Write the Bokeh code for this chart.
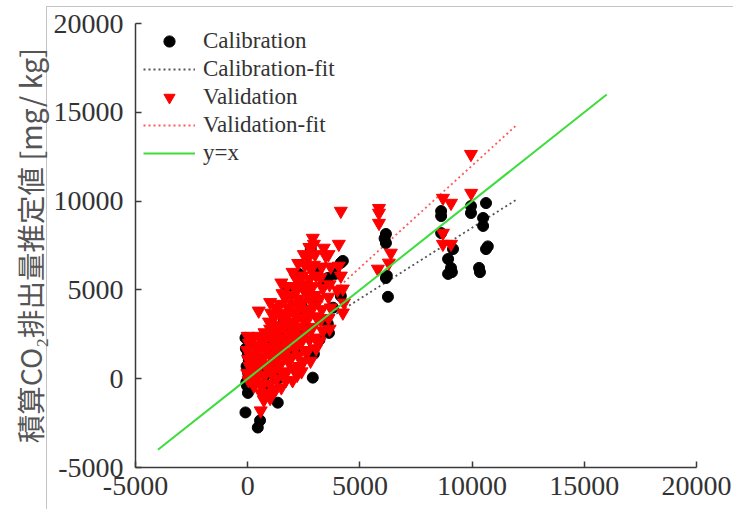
from bokeh.plotting import figure
from bokeh.models import Range1d, FixedTicker, Legend, LegendItem
from bokeh.embed import file_html
from bokeh.resources import INLINE

# ---------------- data ----------------
cal_x = [-100, -80, 0, -50, 20, -60, 10, -100, 50, -30,
         450, 550, 300, 700, 900, 600, 800, 1000, 1340, 1340,
         1200, 1500, 1800, 1600, 1900, 2100, 2200, 2280, 2400, 2500,
         2600, 2810, 2800, 2950, 2900, 2700, 3000, 3100, 3200, 3400,
         3570, 3620, 3570, 3800, 4150, 4150, 4240, 3900, 1100, 1400,
         6160, 6160, 6200, 6160, 6250, 6100,
         8620, 8620, 8620, 9150, 8930, 9060, 8930, 9100,
         9950, 9950, 10620, 10490, 10490, 10620, 10700, 10310, 10350]
cal_y = [2300, 1700, 1300, 700, 300, -200, -800, -1900, 1000, -400,
         -2750, -2350, -250, 2250, 1750, 600, -300, 300, -1350, 0,
         1200, 2000, 5100, 3200, 2600, 1500, 3600, 5900, 4200, 2800,
         5000, 7300, 1300, 1400, 60, 3800, 4600, 6000, 2200, 5400,
         3090, 2580, 5670, 4000, 6520, 4660, 6630, 5900, 800, 2700,
         8150, 7640, 5800, 5670, 4610, 7900,
         9440, 9160, 8200, 7300, 6740, 6240, 5900, 6000,
         9720, 9330, 9890, 9050, 8600, 7300, 7450, 6240, 6000]

val_x = [0, 50, -30, 20, 80, -20, 40,
         250, 300, 200, 260, 300, 220, 280,
         490, 500, 520, 450, 560, 480, 520, 550, 580, 580,
         750, 700, 780, 720, 800, 760, 700, 800, 720,
         1000, 1050, 950, 1000, 1080, 950, 1020, 980, 1050, 1000, 1100, 1000,
         1250, 1200, 1300, 1250, 1200, 1300, 1250, 1200, 1300, 1250,
         1500, 1550, 1450, 1500, 1600, 1450, 1550, 1500, 1600, 1450, 1550, 1500,
         1750, 1700, 1800, 1750, 1700, 1800, 1750, 1700, 1800, 1750, 1700,
         2000, 2140, 2050, 1950, 2000, 2100, 1950, 2050, 2000, 2100, 1950, 2050, 2000,
         2250, 2300, 2200, 2250, 2300, 2200, 2250, 2300, 2200, 2250, 2300, 2200,
         2500, 2550, 2450, 2500, 2600, 2450, 2550, 2500, 2600, 2450, 2550, 2500, 2400,
         2750, 2700, 2800, 2750, 2700, 2800, 2750, 2700, 2800, 2750, 2700, 2800,
         2900, 2950, 3000, 2950, 3050, 2900, 3000, 2950, 3050, 2900, 3000, 3050,
         3390, 3480, 3300, 3250, 3350, 3200, 3300, 3250, 3350, 3200,
         3600, 3700, 3650, 3600, 3700, 3600, 3650,
         4060, 4060, 4150, 4240, 4290, 4240, 4150, 4000,
         5850, 5850, 5850, 6380, 6290, 5800,
         8700, 9060, 8700, 8700, 9060, 9960, 9950]
val_y = [2400, 2000, 1600, 1100, 700, 300, -100,
         2300, 1800, 1300, 900, 400, 0, -400,
         3820, 2400, 1900, 1500, 1000, 600, 200, -300, -800, -1800,
         2600, 2100, 1600, 1200, 700, 200, -300, -900, -1200,
         4300, 3700, 3200, 2800, 2300, 1800, 1300, 800, 300, -300, -800, -1100,
         4000, 3500, 3000, 2500, 2000, 1500, 1000, 500, 0, -600,
         5400, 4800, 4200, 3700, 3300, 2800, 2300, 1800, 1300, 800, 300, -500,
         5200, 4600, 4000, 3500, 3000, 2500, 2000, 1500, 1000, 400, -100,
         6000, 5670, 5200, 4700, 4200, 3700, 3200, 2700, 2200, 1700, 1200, 600, -100,
         6500, 5600, 5000, 4500, 4000, 3400, 2900, 2400, 1900, 1300, 700, 200,
         7000, 6400, 5800, 5300, 4800, 4300, 3800, 3300, 2700, 2200, 1600, 1000, 400,
         7400, 6800, 6200, 5600, 5000, 4500, 3900, 3400, 2800, 2200, 1600, 1000,
         7920, 7580, 7000, 6400, 5800, 5200, 4700, 4100, 3500, 2900, 2300, 1700,
         7360, 6910, 6300, 5700, 5100, 4500, 3900, 3300, 2700, 2100,
         7000, 6300, 5300, 4600, 4000, 3400, 2800,
         7580, 6350, 5790, 5060, 4270, 3710, 9440, 5000,
         9600, 9330, 8760, 7080, 6520, 6180,
         10170, 9890, 8200, 7580, 7580, 10450, 12640]

cal_fit_x = [0, 12000]
cal_fit_y = [500, 10100]
val_fit_x = [0, 12000]
val_fit_y = [500, 14300]
yx_x = [-4000, 16000]
yx_y = [-4000, 16000]

tick_values = [-5000, 0, 5000, 10000, 15000, 20000]
tick_labels = ["-5000", "0", "5000", "10000", "15000", "20000"]

y_label = "積算CO₂排出量推定値 [mg/ kg]"

# ---------------- figure ----------------
W, H = 733, 509
p = figure(width=W, height=H, output_backend="svg", toolbar_location=None,
           x_range=Range1d(-5000, 20000), y_range=Range1d(-5000, 20000),
           min_border_left=135, min_border_right=37, min_border_top=23,
           min_border_bottom=42)
p.grid.visible = False
p.outline_line_color = None
p.background_fill_color = "white"
p.border_fill_alpha = 0
# thin light-grey lines (left and top) that frame the original picture
p.styles = {
    "background-color": "white",
    "background-image": "linear-gradient(#c4c4c4, #c4c4c4), linear-gradient(#c4c4c4, #c4c4c4)",
    "background-size": "1px 100%, 100% 1px",
    "background-position": "46px 6px, 46px 6px",
    "background-repeat": "no-repeat",
}

serif = "Liberation Serif"
for ax in (p.xaxis[0], p.yaxis[0]):
    ax.ticker = FixedTicker(ticks=tick_values)
    ax.major_label_overrides = {v: s for v, s in zip(tick_values, tick_labels)}
    ax.major_tick_in = 6
    ax.major_tick_out = 0
    ax.minor_tick_in = 0
    ax.minor_tick_out = 0
    ax.axis_line_color = "#3a3a3a"
    ax.axis_line_width = 1.5
    ax.major_tick_line_color = "#3a3a3a"
    ax.major_tick_line_width = 1.5
    ax.major_label_text_font = serif
    ax.major_label_text_font_size = "28px"
    ax.major_label_text_color = "#333333"

p.xaxis.major_label_standoff = 9
p.yaxis.major_label_standoff = 12
p.yaxis.axis_label = y_label
p.yaxis.axis_label_text_font = "Noto Sans CJK JP"
p.yaxis.axis_label_text_font_size = "28.5px"
p.yaxis.axis_label_text_font_style = "normal"
p.yaxis.axis_label_text_color = "#555555"
p.yaxis.axis_label_standoff = 1

# ---------------- glyphs (fits under the points, y=x on top) ----------------
r_calfit = p.line(cal_fit_x, cal_fit_y, line_color="#555555", line_width=1.8,
                  line_dash="2 3")
r_valfit = p.line(val_fit_x, val_fit_y, line_color="#ff5a5a", line_width=1.8,
                  line_dash="2 3")
r_cal = p.scatter(cal_x, cal_y, marker="circle", size=11, fill_color="black",
                  line_color="black")
r_val = p.scatter(val_x, val_y, marker="inverted_triangle", size=13,
                  fill_color="#ff0000", line_color="#ff0000")
r_yx = p.line(yx_x, yx_y, line_color="#3ddc3d", line_width=2)

legend = Legend(items=[
    LegendItem(label="Calibration", renderers=[r_cal]),
    LegendItem(label="Calibration-fit", renderers=[r_calfit]),
    LegendItem(label="Validation", renderers=[r_val]),
    LegendItem(label="Validation-fit", renderers=[r_valfit]),
    LegendItem(label="y=x", renderers=[r_yx]),
])
legend.location = (8, 300)
legend.padding = 0
legend.margin = 0
legend.spacing = 0
legend.glyph_width = 52
legend.glyph_height = 28
legend.label_height = 28
legend.label_standoff = 8
legend.label_text_font = serif
legend.label_text_font_size = "23px"
legend.label_text_color = "#333333"
legend.border_line_alpha = 0
legend.background_fill_alpha = 0
p.add_layout(legend)

open("out.html", "w").write(file_html(p, INLINE))
